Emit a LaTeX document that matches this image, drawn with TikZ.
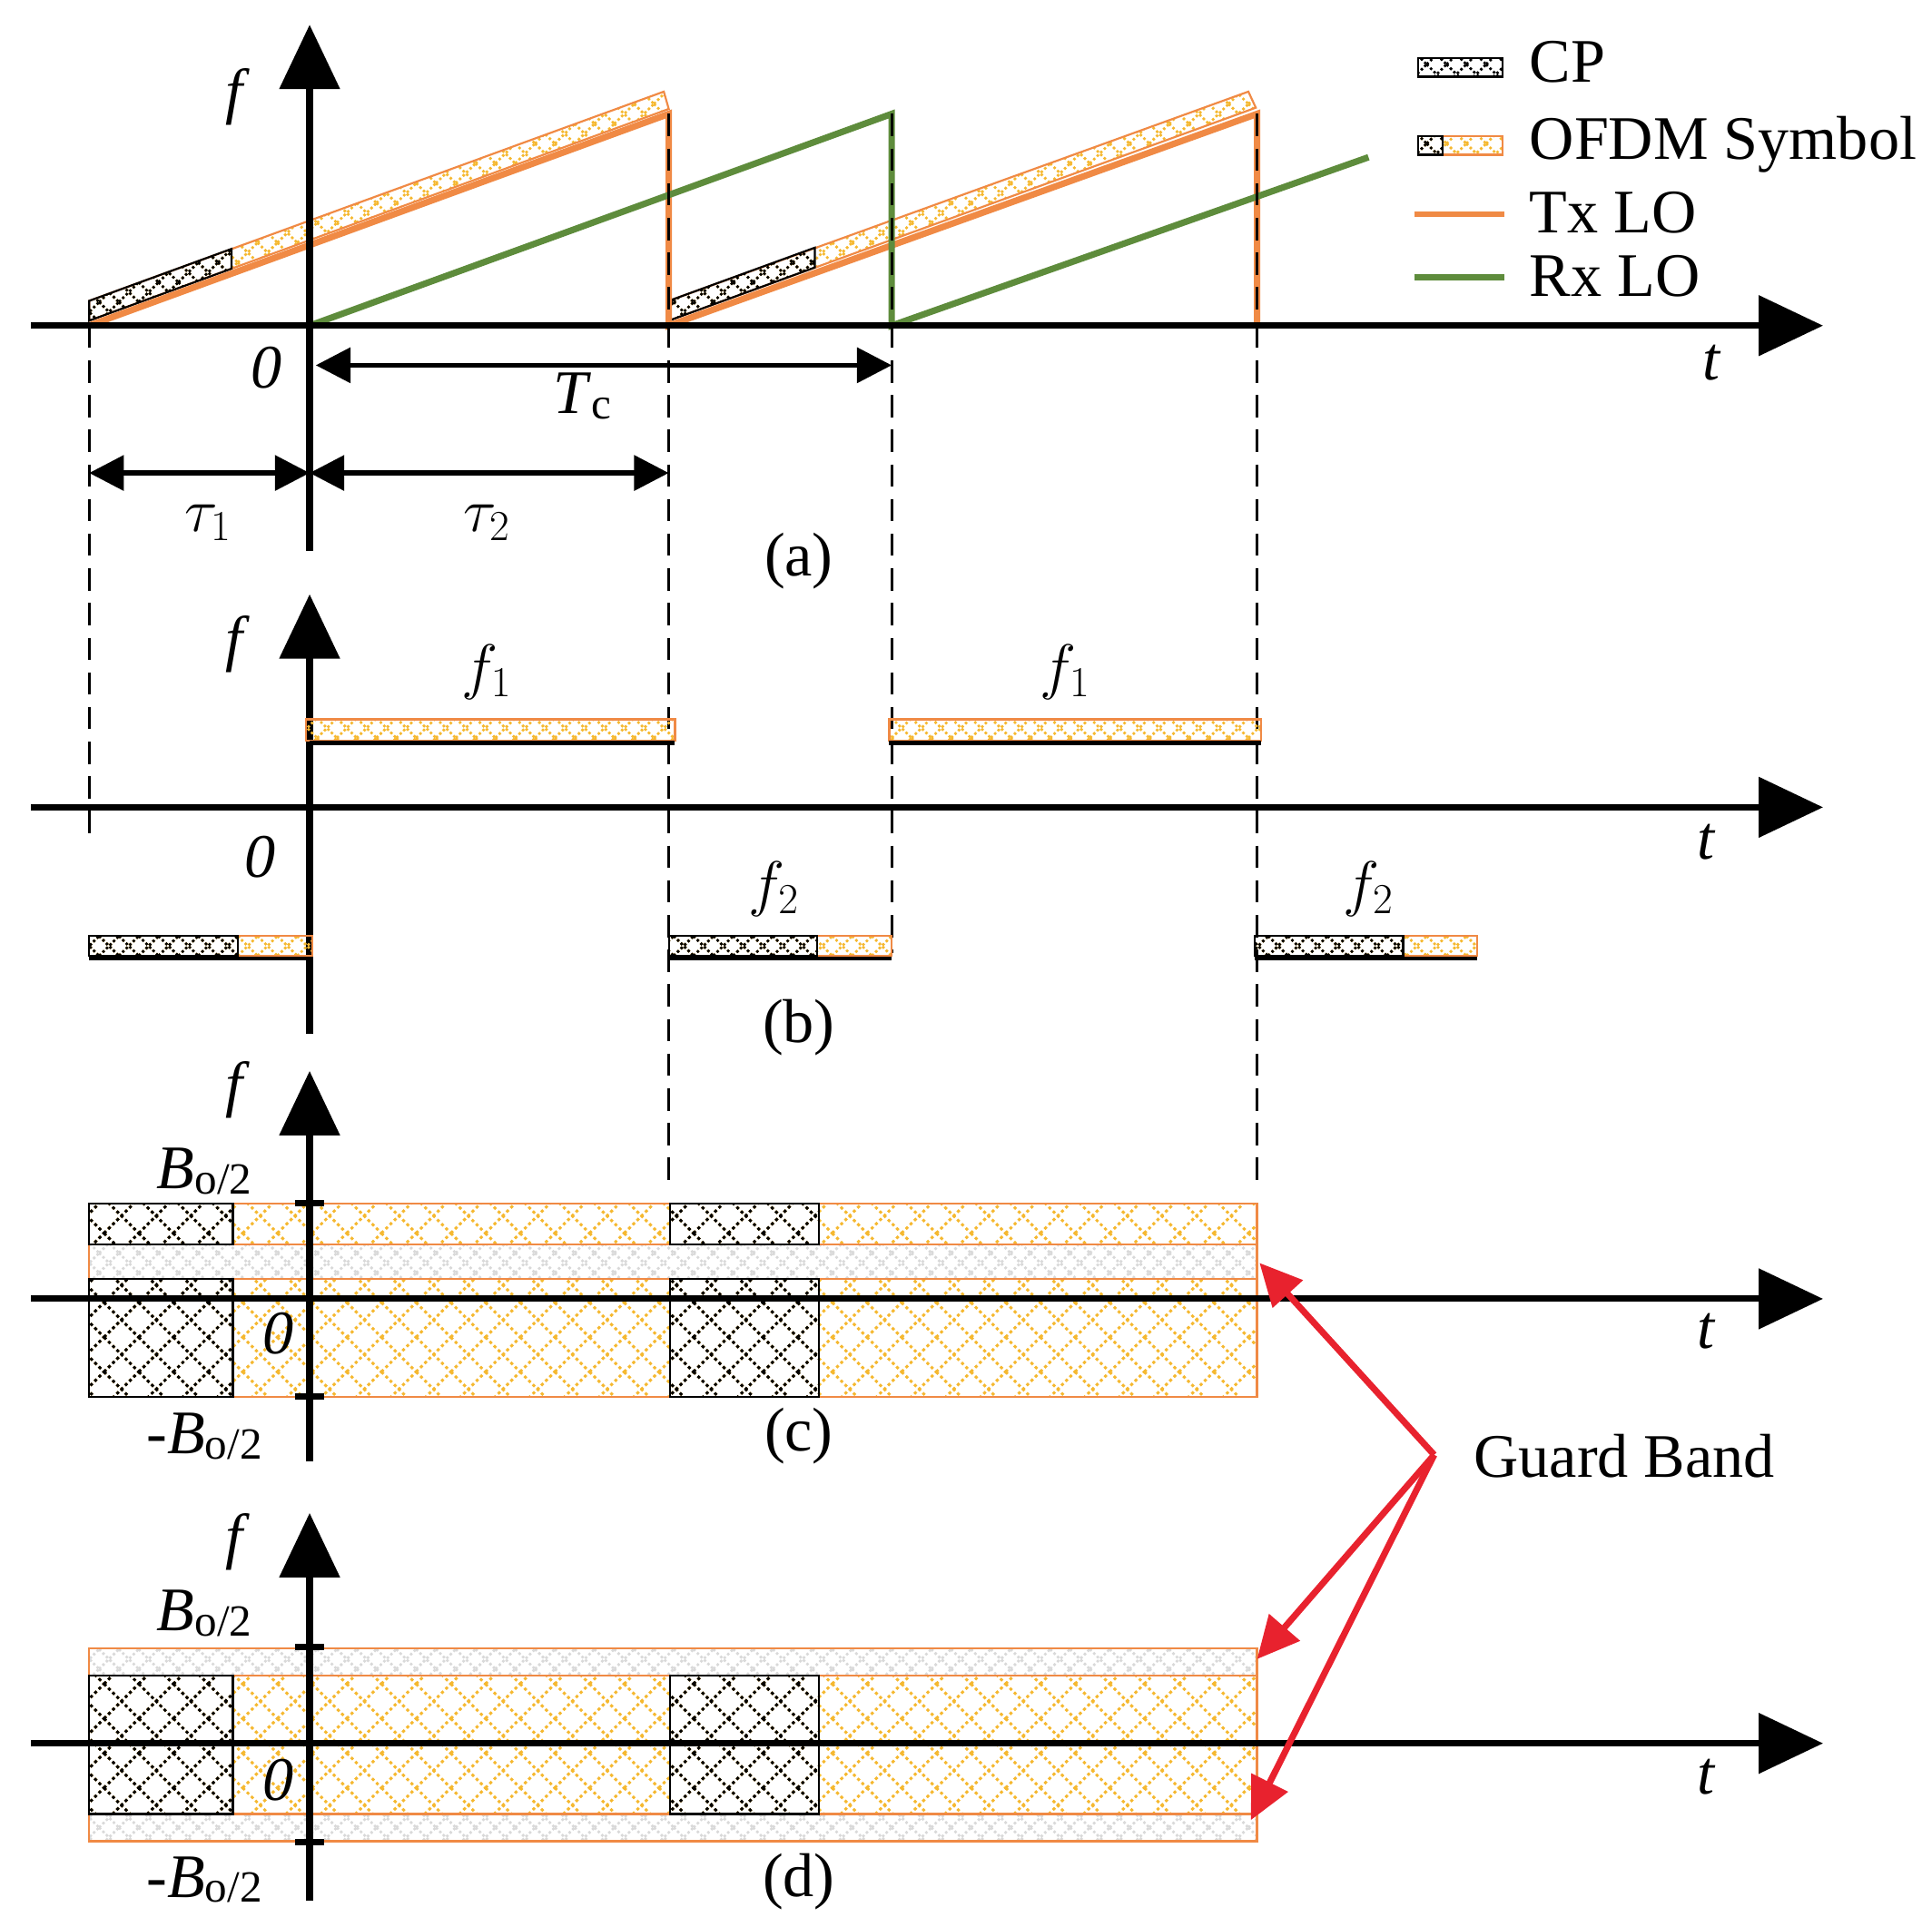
\documentclass[tikz,border=0pt]{standalone}
\usepackage{fontspec}
\setmainfont{Liberation Serif}
\usetikzlibrary{arrows.meta,patterns.meta}
\definecolor{org}{HTML}{F08A45}
\definecolor{ylo}{HTML}{F5B830}
\definecolor{grn}{HTML}{5E8C3C}
\definecolor{rd}{HTML}{E8222E}
\tikzdeclarepattern{name=xdiam,type=uncolored,
  bottom left={(-0.5pt,-0.5pt)},top right={(14.5pt,14.5pt)},tile size={(14pt,14pt)},
  code={\draw[line width=1.1pt,dash pattern=on 1.2pt off 1.2pt] (0,0)--(14pt,14pt) (0,14pt)--(14pt,0);}}
\tikzdeclarepattern{name=xsmall,type=uncolored,
  bottom left={(-0.5pt,-0.5pt)},top right={(8.5pt,8.5pt)},tile size={(8pt,8pt)},
  code={\draw[line width=1pt,dash pattern=on 1pt off 1pt] (0,0)--(8pt,8pt) (0,8pt)--(8pt,0);}}
\begin{document}
\begin{tikzpicture}[x=0.5pt,y=-0.5pt,
  ax/.style={line width=2.6pt,-{Triangle[length=26pt,width=24pt]}},
  dim/.style={line width=2pt,{Triangle[length=14pt,width=14pt]}-{Triangle[length=14pt,width=14pt]}},
  dsh/.style={line width=1pt,dash pattern=on 9pt off 5pt},
  ofdm/.style={pattern={xdiam},pattern color=ylo,draw=org,line width=0.8pt},
  cp/.style={pattern={xdiam},pattern color=black,draw=black,line width=0.8pt},
  ofdms/.style={pattern={xsmall},pattern color=ylo,draw=org,line width=0.8pt},
  cps/.style={pattern={xsmall},pattern color=black,draw=black,line width=0.8pt},
  gb/.style={pattern={xsmall},pattern color=gray!30,draw=org,line width=0.8pt},
  lbl/.style={font=\fontsize{25}{28}\selectfont},
  tick/.style={line width=2.6pt}]
\useasboundingbox (0,0) rectangle (1560,1556);
% ---------- legend
\fill[cps] (1145,47) rectangle (1213,62);
\node[lbl,anchor=west] (lcp) at (1228,50) {CP};
\fill[ofdms] (1145,110) rectangle (1213,125);
\fill[cps] (1145,110) rectangle (1165,125);
\node[lbl,anchor=west] (lof) at (1228,117) {OFDM Symbol};
\draw[org,line width=2.5pt] (1142,173) -- (1215,173);
\node[lbl,anchor=west] (ltx) at (1228,172) {Tx LO};
\draw[grn,line width=2.5pt] (1142,224) -- (1215,224);
\node[lbl,anchor=west] (lrx) at (1228,223) {Rx LO};
% ---------- panel (a)
\fill[ofdms] (72,259) -- (72,243) -- (536,74) -- (540,88) -- cycle;
\fill[cps] (72,259) -- (72,243) -- (187,201) -- (187,217) -- cycle;
\fill[ofdms] (540,259) -- (540,243) -- (1008,74) -- (1014,87) -- cycle;
\fill[cps] (540,259) -- (540,243) -- (658,200) -- (658,216) -- cycle;
\draw[org,line width=2.6pt] (72,263) -- (540,92) -- (540,263) -- (1015,92) -- (1015,263);
\draw[grn,line width=2.6pt] (250,263) -- (720,92) -- (720,263) -- (1105,127);
\draw[dsh] (540,92) -- (540,263);
\draw[dsh] (720,92) -- (720,263);
\draw[dsh] (1015,92) -- (1015,263);
\coordinate (a0) at (25,263); \coordinate (a1) at (1472,263);
\draw[ax] (a0) -- (a1);
\coordinate (f0) at (250,445); \coordinate (f1) at (250,20);
\draw[ax] (f0) -- (f1);
\draw[dim] (255,295) -- (720,295);
\draw[dim] (72,382) -- (250,382);
\draw[dim] (250,382) -- (540,382);
\node[lbl] (tc) at (470,320) {\textit{T}\raisebox{-2pt}{\fontsize{18}{20}\selectfont c}};
\node[lbl] (t1) at (168,422) {$\tau_1$};
\node[lbl] (t2) at (393,422) {$\tau_2$};
\node[lbl] (za) at (215,297) {\textit{0}};
\node[lbl] (ta) at (1382,293) {\textit{t}};
\node[lbl] (fa) at (192,78) {\textit{f}};
\node[lbl] (la) at (645,453) {(a)};
% dashed verticals
\draw[dsh] (72,263) -- (72,675);
\draw[dsh] (540,263) -- (540,960);
\draw[dsh] (720,263) -- (720,770);
\draw[dsh] (1015,263) -- (1015,955);
% ---------- panel (b)
\draw[ax] (25,652) -- (1472,652);
\draw[ax] (250,835) -- (250,480);
\fill[ofdms] (247,581) rectangle (545,598);
\draw[line width=1.5pt] (250,600) -- (545,600);
\fill[ofdms] (718,581) rectangle (1018,598);
\draw[line width=1.5pt] (718,600) -- (1018,600);
\foreach \x/\c in {72/192,540/660,1013/1133}{
  \fill[ofdms] (\x,756) rectangle ({\x+180},772);
  \fill[cps] (\x,756) rectangle (\c,772);
  \draw[line width=1.5pt] (\x,774) -- ({\x+180},774);
}
\node[lbl] (fb1) at (393,543) {$f_1$};
\node[lbl] (fb2) at (860,543) {$f_1$};
\node[lbl] (fb3) at (625,718) {$f_2$};
\node[lbl] (fb4) at (1105,718) {$f_2$};
\node[lbl] (zb) at (210,692) {\textit{0}};
\node[lbl] (tb) at (1378,680) {\textit{t}};
\node[lbl] (fb) at (192,520) {\textit{f}};
\node[lbl] (lb) at (645,830) {(b)};
% ---------- panel (c)
\fill[ofdm] (72,972) rectangle (1015,1005);
\fill[gb] (72,1005) rectangle (1015,1033);
\fill[ofdm] (72,1033) rectangle (1015,1128);
\foreach \x/\c in {72/188,541/661}{
  \fill[cp] (\x,972) rectangle (\c,1005);
  \fill[cp] (\x,1033) rectangle (\c,1128);
}
\draw[ax] (25,1049) -- (1472,1049);
\draw[ax] (250,1180) -- (250,865);
\draw[tick] (238,972) -- (262,972);
\draw[tick] (238,1128) -- (262,1128);
\node[lbl] (bc1) at (165,946) {\textit{B}\raisebox{-2pt}{\fontsize{18}{20}\selectfont o/2}};
\node[lbl] (bc2) at (165,1160) {-\textit{B}\raisebox{-2pt}{\fontsize{18}{20}\selectfont o/2}};
\node[lbl] (zc) at (225,1077) {\textit{0}};
\node[lbl] (tc2) at (1378,1075) {\textit{t}};
\node[lbl] (fc) at (192,880) {\textit{f}};
\node[lbl] (lc) at (645,1160) {(c)};
% ---------- panel (d)
\fill[gb] (72,1331) rectangle (1015,1353);
\fill[ofdm] (72,1353) rectangle (1015,1465);
\fill[gb] (72,1465) rectangle (1015,1487);
\foreach \x/\c in {72/188,541/661}{
  \fill[cp] (\x,1353) rectangle (\c,1465);
}
\draw[ax] (25,1408) -- (1472,1408);
\draw[ax] (250,1535) -- (250,1222);
\draw[tick] (238,1330) -- (262,1330);
\draw[tick] (238,1488) -- (262,1488);
\node[lbl] (bd1) at (165,1303) {\textit{B}\raisebox{-2pt}{\fontsize{18}{20}\selectfont o/2}};
\node[lbl] (bd2) at (165,1518) {-\textit{B}\raisebox{-2pt}{\fontsize{18}{20}\selectfont o/2}};
\node[lbl] (zd) at (225,1438) {\textit{0}};
\node[lbl] (td) at (1378,1435) {\textit{t}};
\node[lbl] (fd) at (192,1245) {\textit{f}};
\node[lbl] (ld) at (645,1520) {(d)};
% ---------- guard band
\node[lbl,anchor=west] (gbl) at (1183,1176) {Guard Band};
\coordinate (g) at (1158,1175);
\coordinate (g1) at (1017,1020);
\coordinate (g2) at (1015,1340);
\coordinate (g3) at (1010,1470);
\foreach \t in {g1,g2,g3}
  \draw[rd,line width=2.6pt,-{Triangle[length=17pt,width=16pt]}] (g) -- (\t);
\end{tikzpicture}
\end{document}
